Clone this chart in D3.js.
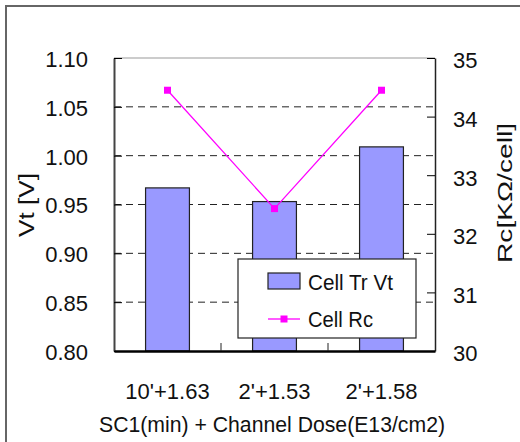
<!DOCTYPE html>
<html>
<head>
<meta charset="utf-8">
<script src="https://cdn.jsdelivr.net/npm/d3@7/dist/d3.min.js"></script>
<style>
  body { margin: 0; background: #fff; }
  text { font-family: "Liberation Sans", Arial, sans-serif; fill: #111; }
</style>
</head>
<body>
<svg width="520" height="442"></svg>
<script>
const categories = ["10'+1.63", "2'+1.53", "2'+1.58"];
const vtValues = [0.967, 0.953, 1.009];
const rcValues = [34.45, 32.43, 34.45];
const vtTicks = [0.80, 0.85, 0.90, 0.95, 1.00, 1.05, 1.10];
const rcTicks = [30, 31, 32, 33, 34, 35];

const svg = d3.select('svg');
const margin = {top: 58, right: 85, bottom: 91, left: 114};
const width = +svg.attr('width');
const height = +svg.attr('height');
const innerWidth = width - margin.left - margin.right;
const innerHeight = height - margin.top - margin.bottom;

// outer frame
svg.append('path')
  .attr('d', `M6,442 V6 H520`)
  .attr('fill', 'none')
  .attr('stroke', '#666')
  .attr('stroke-width', 2);

const g = svg.append('g')
  .attr('transform', `translate(${margin.left},${margin.top})`);

const pad = 0.59;
const xScale = d3.scaleBand()
  .domain(categories)
  .range([0, innerWidth])
  .paddingInner(pad)
  .paddingOuter(pad / 2);

const yLeft = d3.scaleLinear().domain([0.8, 1.1]).range([innerHeight, 0]);
const yRight = d3.scaleLinear().domain([30, 35]).range([innerHeight, 0]);

// dashed gridlines
g.selectAll('.grid').data(vtTicks.slice(1, -1))
  .enter().append('line')
  .attr('x1', 0).attr('x2', innerWidth)
  .attr('y1', d => yLeft(d)).attr('y2', d => yLeft(d))
  .attr('stroke', '#222')
  .attr('stroke-dasharray', '7,5');

// top border of plot
g.append('line')
  .attr('x1', 0).attr('x2', innerWidth)
  .attr('y1', 0).attr('y2', 0)
  .attr('stroke', '#999');

// bars
g.selectAll('.bar').data(vtValues)
  .enter().append('rect')
  .attr('x', (d, i) => xScale(categories[i]))
  .attr('y', d => yLeft(d))
  .attr('width', xScale.bandwidth())
  .attr('height', d => innerHeight - yLeft(d))
  .attr('fill', '#9999ff')
  .attr('stroke', '#222')
  .attr('stroke-width', 1.2);

// Rc line
const xc = (d, i) => xScale(categories[i]) + xScale.bandwidth() / 2;
const line = d3.line().x(xc).y(d => yRight(d));
g.append('path')
  .attr('d', line(rcValues))
  .attr('fill', 'none')
  .attr('stroke', '#ff00ff')
  .attr('stroke-width', 1.3);
g.selectAll('.pt').data(rcValues)
  .enter().append('rect')
  .attr('x', (d, i) => xc(d, i) - 3.5)
  .attr('y', d => yRight(d) - 3.5)
  .attr('width', 7).attr('height', 7)
  .attr('fill', '#ff00ff');

// left axis
const yAxisL = d3.axisLeft(yLeft)
  .tickValues(vtTicks)
  .tickFormat(d3.format('.2f'))
  .tickSizeInner(-8).tickSizeOuter(0)
  .tickPadding(26);
const yAxisLG = g.append('g').call(yAxisL);
yAxisLG.select('.domain').attr('stroke', '#444').attr('stroke-width', 2);
yAxisLG.selectAll('text').attr('font-size', 22).attr('dy', '0.38em');

// right axis
const yAxisR = d3.axisRight(yRight)
  .tickValues(rcTicks)
  .tickFormat(d3.format('d'))
  .tickSizeInner(-8).tickSizeOuter(0)
  .tickPadding(18);
const yAxisRG = g.append('g')
  .attr('transform', `translate(${innerWidth},0)`)
  .call(yAxisR);
yAxisRG.select('.domain').attr('stroke', '#222').attr('stroke-width', 1.5);
yAxisRG.selectAll('text').attr('font-size', 22).attr('dy', '0.45em');

// bottom axis
const xAxis = d3.axisBottom(xScale).tickSize(0).tickPadding(32);
const xAxisG = g.append('g')
  .attr('transform', `translate(0,${innerHeight})`)
  .call(xAxis);
xAxisG.select('.domain').attr('stroke', '#000').attr('stroke-width', 2.5);
xAxisG.selectAll('text').attr('font-size', 22);

// category boundary ticks
const step = xScale.step();
g.selectAll('.btick').data(categories.slice(1))
  .enter().append('line')
  .attr('x1', d => xScale(d) - (step - xScale.bandwidth()) / 2)
  .attr('x2', d => xScale(d) - (step - xScale.bandwidth()) / 2)
  .attr('y1', innerHeight).attr('y2', innerHeight - 8)
  .attr('stroke', '#222');

// axis titles
svg.append('text')
  .attr('x', 272).attr('y', 432)
  .attr('text-anchor', 'middle')
  .attr('font-size', 22)
  .attr('textLength', 346).attr('lengthAdjust', 'spacingAndGlyphs')
  .text('SC1(min) + Channel Dose(E13/cm2)');

svg.append('text')
  .attr('transform', 'translate(34,205) rotate(-90)')
  .attr('text-anchor', 'middle')
  .attr('font-size', 22)
  .attr('textLength', 64).attr('lengthAdjust', 'spacingAndGlyphs')
  .text('Vt [V]');

svg.append('text')
  .attr('transform', 'translate(512,193) rotate(-90)')
  .attr('text-anchor', 'middle')
  .attr('font-size', 21)
  .attr('textLength', 140).attr('lengthAdjust', 'spacingAndGlyphs')
  .text('Rc[KΩ/cell]');

// legend
const legend = svg.append('g').attr('transform', 'translate(238,259)');
legend.append('rect')
  .attr('width', 178).attr('height', 79)
  .attr('fill', '#fff').attr('stroke', '#222').attr('stroke-width', 1.2);
legend.append('rect')
  .attr('x', 30).attr('y', 14).attr('width', 32).attr('height', 16)
  .attr('fill', '#9999ff').attr('stroke', '#222').attr('stroke-width', 1.2);
legend.append('text')
  .attr('x', 70).attr('y', 31)
  .attr('font-size', 22)
  .attr('textLength', 85).attr('lengthAdjust', 'spacingAndGlyphs')
  .text('Cell Tr Vt');
legend.append('line')
  .attr('x1', 30).attr('x2', 62).attr('y1', 60).attr('y2', 60)
  .attr('stroke', '#ff00ff').attr('stroke-width', 1.3);
legend.append('rect')
  .attr('x', 42.5).attr('y', 56.5).attr('width', 7).attr('height', 7)
  .attr('fill', '#ff00ff');
legend.append('text')
  .attr('x', 70).attr('y', 68)
  .attr('font-size', 22)
  .attr('textLength', 65).attr('lengthAdjust', 'spacingAndGlyphs')
  .text('Cell Rc');
</script>
</body>
</html>
